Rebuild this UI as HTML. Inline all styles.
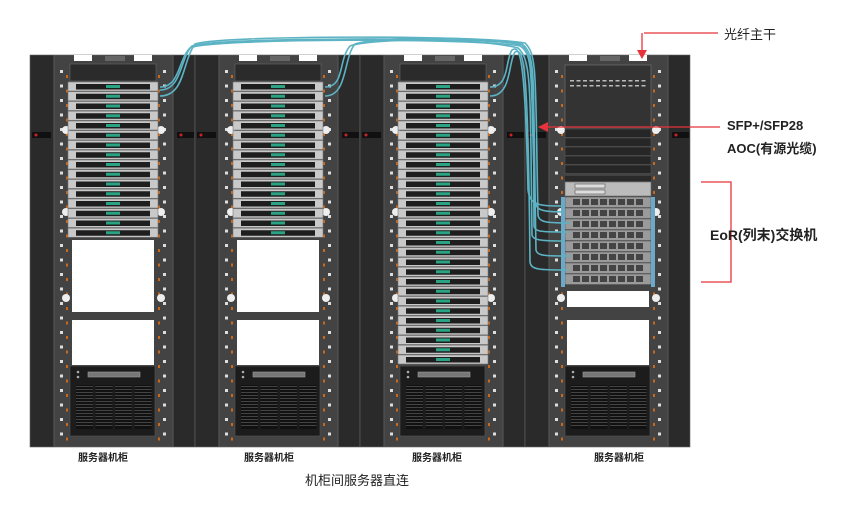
<!DOCTYPE html>
<html><head><meta charset="utf-8"><style>
body{margin:0;background:#fff;width:847px;height:514px;overflow:hidden;font-family:"Liberation Sans","Noto Sans CJK SC",sans-serif}
svg{position:absolute;left:0;top:0}
.t{position:absolute;font-family:"Liberation Sans","Noto Sans CJK SC",sans-serif;color:#222;white-space:nowrap}
</style></head><body>
<svg id="s" width="847" height="514" xmlns="http://www.w3.org/2000/svg"></svg>
<div class="t" style="left:78px;top:449px;font-size:10px;font-weight:bold">服务器机柜</div>
<div class="t" style="left:244px;top:449px;font-size:10px;font-weight:bold">服务器机柜</div>
<div class="t" style="left:412px;top:449px;font-size:10px;font-weight:bold">服务器机柜</div>
<div class="t" style="left:594px;top:449px;font-size:10px;font-weight:bold">服务器机柜</div>
<div class="t" style="left:305px;top:470px;font-size:13px">机柜间服务器直连</div>
<div class="t" style="left:724px;top:24px;font-size:13px">光纤主干</div>
<div class="t" style="left:727px;top:118px;font-size:13px;font-weight:bold">SFP+/SFP28</div>
<div class="t" style="left:727px;top:138px;font-size:13px;font-weight:bold">AOC(有源光缆)</div>
<div class="t" style="left:710px;top:225px;font-size:14px;font-weight:bold">EoR(列末)交换机</div>
<script>
var s=document.getElementById('s'),h='';
function r(x,y,w,hh,f,st){h+='<rect x="'+x+'" y="'+y+'" width="'+w+'" height="'+hh+'" fill="'+f+'"'+(st?' stroke="'+st+'" stroke-width="0.6"':'')+'/>';}
function c(x,y,rr,f){h+='<circle cx="'+x+'" cy="'+y+'" r="'+rr+'" fill="'+f+'"/>';}
function server(x,y,w){r(x,y,w,9,'#c9c9c9','#777');r(x+8,y+2,w-16,5.5,'#1e1e1e');r(x+w/2-7,y+3,14,3,'#2aa384');}
function vents(x,y){r(x,y,85,70,'#1c1c1c','#555');c(x+8,y+6,1.3,'#aaa');c(x+8,y+11,1.3,'#aaa');r(x+18,y+6,52,5,'#777','#999');for(var k=0;k<4;k++){r(x+6+k*19.5,y+19,17,44,'#111');for(var j=0;j<14;j++)r(x+6+k*19.5,y+20+j*3,17,1,'#444');}}
function rack(b,type){
 r(b,55,24,392,'#2a2a2a','#666');r(b+143,55,22,392,'#2a2a2a','#666');
 r(b+24,55,119,392,'#434343','#666');
 r(b+44,55,18,6,'#fff');r(b+104,55,18,6,'#fff');r(b+75,56,20,5,'#666');
 r(b+2,132,19,6,'#111');r(b+147,132,17,6,'#111');c(b+6,135,1.5,'#c22');c(b+151,135,1.5,'#c22');
 for(var y=70;y<440;y+=14.5){r(b+30,y,3,3,'#ddd');r(b+133,y,3,3,'#ddd');r(b+36,y+5,2,3,'#c76a1e');r(b+128,y+5,2,3,'#c76a1e');}
 [130,212,298].forEach(function(y){c(b+36,y,4,'#eee');c(b+131,y,4,'#eee');});
 if(type!=4){r(b+40,64,86,17,'#2b2b2b','#666');
  var n=type==3?29:16;for(var i=0;i<n;i++)server(b+38,82+i*9.75,90);
  if(type!=3){r(b+42,240,82,72,'#fff');r(b+42,320,82,45,'#fff');}
  vents(b+40,366);}
 else{r(b+40,65,86,62,'#333','#777');for(var k=0;k<2;k++)for(var j=0;j<12;j++)r(b+45+j*6.5,80+k*5,4,1.5,'#bbb');
  for(var i=0;i<5;i++)r(b+40,129+i*9,86,8.5,'#262626','#555');
  r(b+40,176,86,5,'#2a2a2a');
  r(b+40,182,86,14,'#bbb','#666');r(b+50,184,30,4,'#ddd','#555');r(b+50,190,30,4,'#ddd','#555');
  for(var i=0;i<8;i++){r(b+40,197+i*11,86,10.5,'#9a9a9a','#555');for(var j=0;j<8;j++)r(b+48+j*9,199+i*11,7,6,'#444');}
  r(b+36,197,4,90,'#6aa9c9');r(b+126,197,4,90,'#6aa9c9');
  r(b+42,291,82,16,'#fff');r(b+42,320,82,45,'#fff');vents(b+40,366);}
}
rack(30,1);rack(195,2);rack(360,3);rack(525,4);
var cs='fill="none" stroke="#5cb3c4" stroke-width="1.6"';
var P=[
'M160,87 C180,87 178,60 190,48 C210,38 480,38 520,46 C535,55 530,80 535,200 C536,210 540,212 565,212',
'M160,96 C185,96 182,62 195,44 C220,35 480,35 525,43 C538,55 535,80 538,215 C539,222 545,223 570,223',
'M325,87 C345,87 338,60 350,46 C370,38 480,38 518,48 C532,60 530,90 532,235 C533,240 540,241 565,241',
'M325,96 C348,96 343,58 355,44 C380,36 480,36 522,45 C536,60 533,90 536,250 C537,256 545,256 570,256',
'M490,87 C510,87 505,60 512,50 C520,45 525,55 528,190 C530,206 540,206 565,206',
'M490,96 C512,96 508,62 515,52 C524,48 528,60 530,262 C531,270 540,270 568,270',
'M160,90 C182,90 180,58 192,46 C215,37 480,37 522,44 C537,55 533,80 534,226 C535,232 542,232 568,232'];
P.forEach(function(p){h+='<path d="'+p+'" '+cs+'/>';});
h+='<path d="M644,33 H718" stroke="#e8333a" stroke-width="1.3" fill="none"/><path d="M642,33 V52" stroke="#e8333a" stroke-width="1.3"/><path d="M637,50 L642,59 L647,50Z" fill="#e8333a"/>';
h+='<path d="M545,127 H720" stroke="#e8333a" stroke-width="1.3"/><path d="M538,127 L548,122 L548,132Z" fill="#e8333a"/>';
h+='<path d="M701,182 H731 V282 H701" stroke="#e8333a" stroke-width="1.3" fill="none"/>';
s.innerHTML=h;
</script>
</body></html>
